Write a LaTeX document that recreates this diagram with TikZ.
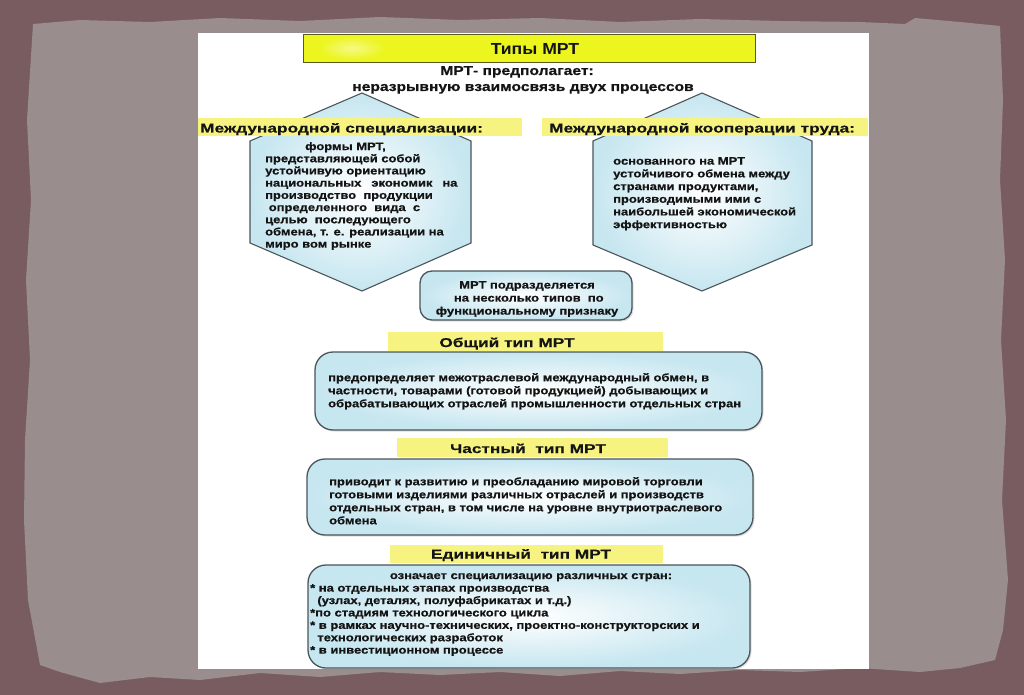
\documentclass[tikz,border=0pt]{standalone}
\usepackage{fontspec}
\setmainfont{Liberation Sans}
\newfontfamily\bodyfont{Liberation Sans}[FakeStretch=1.2, BoldFeatures={FakeBold=0.7}]
\newfontfamily\labelfont{Liberation Sans}[FakeStretch=1.36, BoldFeatures={FakeBold=0.5}]
\newfontfamily\titlefont{Liberation Sans}[FakeStretch=1.1]
\usetikzlibrary{shadows}
\definecolor{outerbg}{RGB}{120,92,96}
\definecolor{panelc}{RGB}{153,141,142}
\definecolor{bluec}{RGB}{198,230,240}
\definecolor{edgec}{RGB}{75,85,90}
\definecolor{bandc}{RGB}{246,243,128}
\definecolor{titley}{RGB}{236,245,30}
\definecolor{titleedge}{RGB}{90,90,30}
\definecolor{txt}{RGB}{20,20,20}
\tikzset{
  hexshape/.style={draw=edgec, line width=1.1pt, inner color=white, outer color=bluec},
  roundbox/.style={draw=edgec, line width=1.3pt, inner color=white, outer color=bluec,
    drop shadow={opacity=0.25, shadow xshift=1.5pt, shadow yshift=-1.5pt}},
  band/.style={fill=bandc, draw=none, inner sep=0pt},
  body/.style={font=\bodyfont\bfseries\fontsize{10.8}{13}\selectfont, text=txt, inner sep=0pt, align=left},
  lab/.style={font=\labelfont\bfseries\fontsize{12.7}{14}\selectfont, text=txt, inner sep=0pt},
  sub/.style={font=\bodyfont\bfseries\fontsize{13}{15}\selectfont, text=txt, inner sep=0pt},
}
\begin{document}
\begin{tikzpicture}[x=1pt,y=-1pt]
\useasboundingbox (0,0) rectangle (1024,695);
% background
\fill[outerbg] (0,0) rectangle (1024,695);
\fill[panelc] (33,24) -- (80,20) -- (150,22) -- (220,18) -- (300,21) -- (380,17) -- (460,20) -- (540,18) -- (620,22) -- (700,19) -- (780,21) -- (860,22) -- (905,24) -- (915,18) -- (960,22) -- (1000,26)
  -- (1003,100) -- (1000,180) -- (1005,260) -- (1001,340) -- (1006,420) -- (1002,500) -- (1008,580) -- (1003,630) -- (995,660)
  -- (960,668) -- (920,672) -- (860,668) -- (800,672) -- (740,670) -- (680,674) -- (620,671) -- (560,676) -- (500,672) -- (440,675) -- (380,672) -- (320,677) -- (260,673) -- (200,680) -- (150,677) -- (100,683) -- (60,672) -- (40,665)
  -- (28,600) -- (24,520) -- (25,440) -- (30,360) -- (26,280) -- (31,200) -- (27,120) -- cycle;
% white sheet
\fill[white] (198,33) rectangle (869,669);
% title
\node[draw=titleedge, fill=titley, line width=0.9pt, minimum width=452pt, minimum height=28pt, inner sep=0pt] (titlebox) at (529,48) {};
\shade[inner color=white!45!titley, outer color=titley] (352,48) ellipse (34 and 12);
\node[font=\titlefont\bfseries\fontsize{16}{18}\selectfont, text=txt, inner sep=0pt, anchor=base] (title) at (535,55) {Типы МРТ};
\node[sub, anchor=base] (sub1) at (517,75) {МРТ- предполагает:};
\node[sub, anchor=base] (sub2) at (523,91) {неразрывную взаимосвязь двух процессов};
% hexagons
\path[hexshape] (362,93) -- (471,141) -- (471,243) -- (362,291) -- (250,243) -- (250,141) -- cycle;
\path[hexshape] (702,93) -- (812,141) -- (812,245) -- (702,291) -- (593,245) -- (593,141) -- cycle;
% labels over hexagons
\node[band, minimum width=324pt, minimum height=18pt, anchor=north west] (bandL) at (198,118) {};
\node[band, minimum width=326pt, minimum height=18pt, anchor=north west] (bandR) at (542,118) {};
\node[lab, anchor=base west] (labL) at (200,132.5) {Международной специализации:};
\node[lab, anchor=base west] (labR) at (549,132.5) {Международной кооперации труда:};
% hex texts
\node[body, anchor=north west, font=\bodyfont\bfseries\fontsize{10.8}{12.2}\selectfont] (hexLtext) at (265,142) {\hspace*{40pt}формы МРТ,\\
представляющей собой\\
устойчивую ориентацию\\
национальных\hspace{10pt}экономик\hspace{10pt}на\\
производство\ \ продукции\\
\ определенного\ \ вида\ \ с\\
целью\ \ последующего\\
обмена, т. е. реализации на\\
миро вом рынке};
\node[body, anchor=north west, font=\bodyfont\bfseries\fontsize{10.8}{12.7}\selectfont] (hexRtext) at (613,157) {основанного на МРТ\\
устойчивого обмена между\\
странами продуктами,\\
производимыми ими с\\
наибольшей экономической\\
эффективностью};
% small box
\path[roundbox, rounded corners=12pt] (420,271) rectangle (632,320);
\node[body, align=center, anchor=center] (smalltext) at (527,299) {МРТ подразделяется\\
\ на несколько типов\ \ по\\
функциональному признаку};
% general type
\node[band, minimum width=275pt, minimum height=19pt, anchor=north west] (band1) at (388,332) {};
\node[lab, anchor=base] (head1) at (507,347) {Общий тип МРТ};
\path[roundbox, rounded corners=18pt] (315,352) rectangle (762,430);
\node[body, anchor=north west] (text1) at (328,373) {предопределяет межотраслевой международный обмен, в\\
частности, товарами (готовой продукцией) добывающих и\\
обрабатывающих отраслей промышленности отдельных стран};
% partial type
\node[band, minimum width=271pt, minimum height=19pt, anchor=north west] (band2) at (397,438) {};
\node[lab, anchor=base] (head2) at (528,453) {Частный\ \ тип МРТ};
\path[roundbox, rounded corners=18pt] (307,459) rectangle (753,535);
\node[body, anchor=north west] (text2) at (329,477) {приводит к развитию и преобладанию мировой торговли\\
готовыми изделиями различных отраслей и производств\\
отдельных стран, в том числе на уровне внутриотраслевого\\
обмена};
% single type
\node[band, minimum width=273pt, minimum height=18pt, anchor=north west] (band3) at (390,545) {};
\node[lab, anchor=base] (head3) at (521,558.5) {Единичный\ \ тип МРТ};
\path[roundbox, rounded corners=18pt] (308,565) rectangle (750,668);
\node[body, anchor=base] (text3a) at (531,579) {означает специализацию различных стран:};
\node[body, anchor=north west, font=\bodyfont\bfseries\fontsize{10.8}{12.4}\selectfont] (text3b) at (310,584) {* на отдельных этапах производства\\
\ \ (узлах, деталях, полуфабрикатах и т.д.)\\
*по стадиям технологического цикла\\
* в рамках научно-технических, проектно-конструкторских и\\
\ \ технологических разработок\\
* в инвестиционном процессе};
\end{tikzpicture}
\end{document}
